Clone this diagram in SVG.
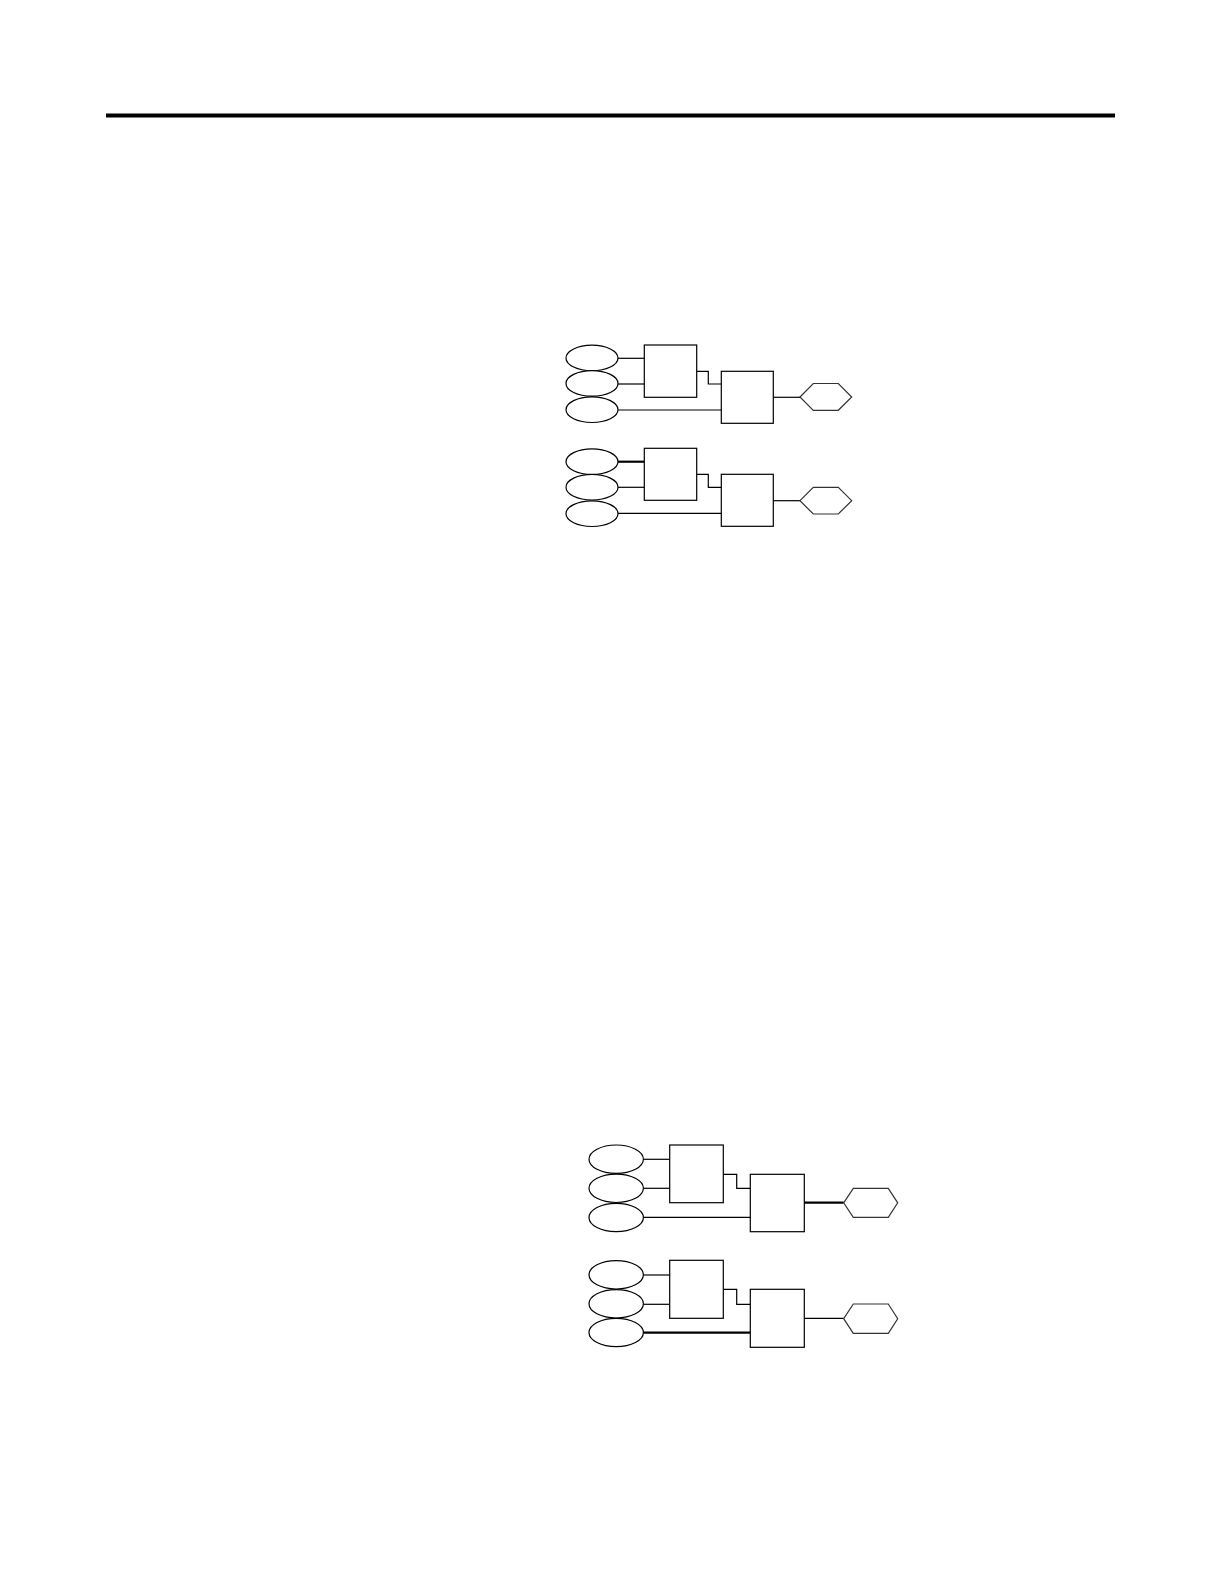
<svg xmlns="http://www.w3.org/2000/svg" width="1224" height="1584" viewBox="0 0 1224 1584">
<style>
.n{fill:#fff;stroke:#000;stroke-width:1.2}
.h{fill:#fff;stroke:#333;stroke-width:1.2}
.c{fill:none;stroke:#000;stroke-width:1.2}
.t{stroke-width:2.2}
</style>
<rect x="0" y="0" width="1224" height="1584" fill="#fff"/>
<rect id="rule" x="106" y="113.5" width="1009" height="4" fill="#000"/>

<g id="connectors">
  <!-- group 1 -->
  <path class="c" d="M618,358.3H644.3"/>
  <path class="c" d="M618,384H644.3"/>
  <path class="c" d="M618,410H721.3"/>
  <path class="c" d="M696.7,371.3H708.3V384H721.3"/>
  <path class="c" d="M773.3,397.3H800"/>
  <!-- group 2 -->
  <path class="c t" d="M618,461.7H644.3"/>
  <path class="c" d="M618,487.3H644.3"/>
  <path class="c" d="M618,513.3H721.3"/>
  <path class="c" d="M696.7,474.3H708.3V487.3H721.3"/>
  <path class="c" d="M773.3,500.7H800"/>
  <!-- group 3 -->
  <path class="c" d="M643.3,1159.3H669.7"/>
  <path class="c" d="M643.3,1188.3H669.7"/>
  <path class="c" d="M643.3,1217.3H750.3"/>
  <path class="c" d="M723.3,1174.3H736.7V1188.3H750.3"/>
  <path class="c t" d="M804.3,1202.7H843.7"/>
  <!-- group 4 -->
  <path class="c" d="M643.3,1275H669.7"/>
  <path class="c" d="M643.3,1304.3H669.7"/>
  <path class="c t" d="M643.3,1332.7H750.3"/>
  <path class="c" d="M723.3,1289.3H736.7V1304.3H750.3"/>
  <path class="c" d="M804.3,1318.3H843.7"/>
</g>

<g id="g1">
  <ellipse id="g1e1" class="n" cx="592" cy="358" rx="26" ry="12.8"/>
  <ellipse id="g1e2" class="n" cx="592" cy="383.4" rx="26" ry="12.8"/>
  <ellipse id="g1e3" class="n" cx="592" cy="409.7" rx="26" ry="12.8"/>
  <rect id="g1b1" class="n" x="644.3" y="345" width="52.4" height="52.3"/>
  <rect id="g1b2" class="n" x="721.3" y="371.3" width="52" height="52"/>
  <polygon id="g1h" class="h" points="800,397 813.3,383.5 838.3,383.5 851.7,397 838.3,410.3 813.3,410.3"/>
</g>
<g id="g2">
  <ellipse id="g2e1" class="n" cx="592" cy="461.7" rx="26" ry="12.8"/>
  <ellipse id="g2e2" class="n" cx="592" cy="487.2" rx="26" ry="12.8"/>
  <ellipse id="g2e3" class="n" cx="592" cy="513.7" rx="26" ry="12.8"/>
  <rect id="g2b1" class="n" x="644.3" y="448.3" width="52.4" height="52"/>
  <rect id="g2b2" class="n" x="721.3" y="474.3" width="52" height="52"/>
  <polygon id="g2h" class="h" points="800,500.7 813.3,487.3 838.3,487.3 851.7,500.7 838.3,514 813.3,514"/>
</g>
<g id="g3">
  <ellipse id="g3e1" class="n" cx="616.2" cy="1159.2" rx="27.2" ry="14.2"/>
  <ellipse id="g3e2" class="n" cx="616.2" cy="1188.3" rx="27.2" ry="14.2"/>
  <ellipse id="g3e3" class="n" cx="616.2" cy="1217.5" rx="27.2" ry="14.2"/>
  <rect id="g3b1" class="n" x="669.7" y="1145" width="53.6" height="57.7"/>
  <rect id="g3b2" class="n" x="750.3" y="1174.3" width="54" height="57.4"/>
  <polygon id="g3h" class="h" points="843.7,1202.8 853.3,1188.3 888.3,1188.3 897.7,1202.8 888.3,1217.3 853.3,1217.3"/>
</g>
<g id="g4">
  <ellipse id="g4e1" class="n" cx="616.2" cy="1274.8" rx="27.2" ry="14.2"/>
  <ellipse id="g4e2" class="n" cx="616.2" cy="1303.8" rx="27.2" ry="14.2"/>
  <ellipse id="g4e3" class="n" cx="616.2" cy="1332.5" rx="27.2" ry="14.2"/>
  <rect id="g4b1" class="n" x="669.7" y="1260.3" width="53.6" height="58"/>
  <rect id="g4b2" class="n" x="750.3" y="1289.3" width="54" height="58"/>
  <polygon id="g4h" class="h" points="843.7,1318.7 853.3,1304 888.3,1304 897.7,1318.7 888.3,1333.3 853.3,1333.3"/>
</g>
</svg>
